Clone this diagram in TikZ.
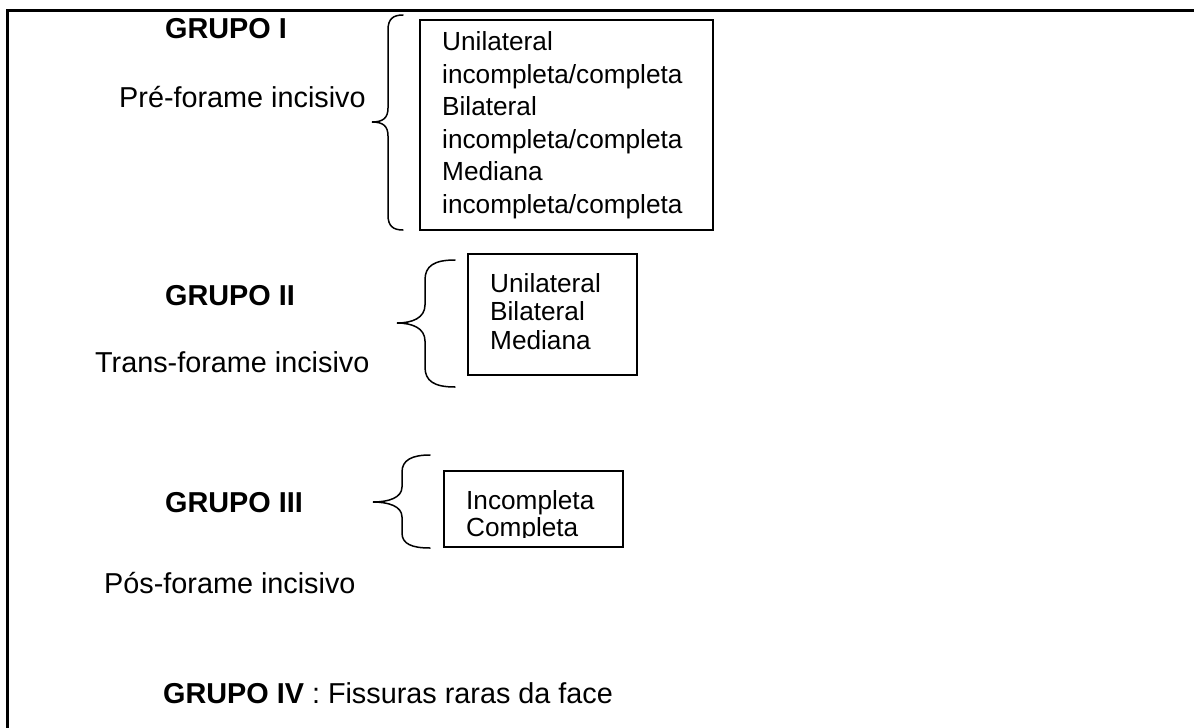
\documentclass[tikz,border=0pt]{standalone}
\usepackage{fontspec}
\setmainfont{Liberation Sans}
\begin{document}
\begin{tikzpicture}[x=1pt,y=-1pt,
  lbl/.style={anchor=base west, inner sep=0pt, font=\fontsize{28.8}{34}\selectfont},
  grp/.style={anchor=base west, inner sep=0pt, font=\fontsize{28.8}{34}\selectfont\bfseries},
  btxt/.style={anchor=base west, inner sep=0pt, font=\fontsize{26.2}{31}\selectfont},
  boxrect/.style={draw, line width=1.3pt, inner sep=0pt},
  bracestyle/.style={line width=1.5pt, line cap=round},
  framestyle/.style={line width=3pt}]
\useasboundingbox (0,0) rectangle (1194,728);
% outer frame
\coordinate (fbl) at (7,730);
\coordinate (ftl) at (7,10);
\coordinate (ftr) at (1196,10);
\draw[framestyle] (fbl) -- (ftl) -- (ftr);

% ---------- GRUPO I ----------
\node[grp] (g1) at (165,38) {GRUPO I};
\node[lbl] (g1d) at (119,107) {Pré-forame incisivo};
\draw[bracestyle] (403,15) .. controls (393,15) and (388,19) .. (388,30)
  -- (388,108) .. controls (388,118) and (383,122) .. (372,122)
  .. controls (383,122) and (388,126) .. (388,136)
  -- (388,215) .. controls (388,226) and (393,230) .. (403,230);
\node[boxrect, minimum width=293pt, minimum height=210pt] (box1) at (566.5,125) {};
\node[btxt] (t11) at (442,50.5) {Unilateral};
\node[btxt] (t12) at (442,83) {incompleta/completa};
\node[btxt] (t13) at (442,115.5) {Bilateral};
\node[btxt] (t14) at (442,148) {incompleta/completa};
\node[btxt] (t15) at (442,180.5) {Mediana};
\node[btxt] (t16) at (442,213) {incompleta/completa};

% ---------- GRUPO II ----------
\node[grp] (g2) at (165,305) {GRUPO II};
\node[lbl] (g2d) at (95,372) {Trans-forame incisivo};
\draw[bracestyle] (455,260) .. controls (434,260) and (425,266) .. (425,280)
  -- (425,305) .. controls (425,318) and (412,323) .. (397,323)
  .. controls (412,323) and (425,328) .. (425,341)
  -- (425,367) .. controls (425,381) and (434,387) .. (455,387);
\node[boxrect, minimum width=169pt, minimum height=121pt] (box2) at (552.5,314.5) {};
\node[btxt] (t21) at (490,292) {Unilateral};
\node[btxt] (t22) at (490,320.5) {Bilateral};
\node[btxt] (t23) at (490,349) {Mediana};

% ---------- GRUPO III ----------
\node[grp] (g3) at (165,512) {GRUPO III};
\node[lbl] (g3d) at (104,593) {Pós-forame incisivo};
\draw[bracestyle] (430,455) .. controls (412,455) and (402,460) .. (402,472)
  -- (402,487) .. controls (402,498) and (388,502) .. (373,502)
  .. controls (388,502) and (402,506) .. (402,517)
  -- (402,533) .. controls (402,544) and (412,548) .. (430,548);
\node[boxrect, minimum width=179pt, minimum height=76pt] (box3) at (533.5,509) {};
\begin{scope}
  \clip (444,471) rectangle (623,537.5);
  \node[btxt] (t31) at (466,509) {Incompleta};
  \node[btxt] (t32) at (466,536) {Completa};
\end{scope}

% ---------- GRUPO IV ----------
\node[lbl] (g4) at (163,703) {\textbf{GRUPO IV} : Fissuras raras da face};
\end{tikzpicture}
\end{document}
